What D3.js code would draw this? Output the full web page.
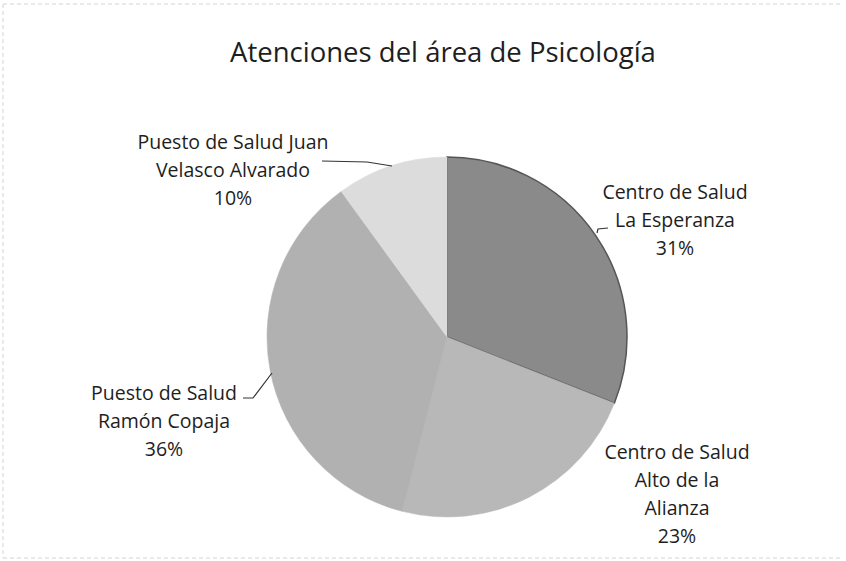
<!DOCTYPE html>
<html>
<head>
<meta charset="utf-8">
<script src="https://cdn.jsdelivr.net/npm/d3@7"></script>
<style>
  body { margin: 0; background: #fff; }
  text { font-family: "Open Sans", Lato, sans-serif; fill: #1e1e1e; }
</style>
</head>
<body>
<svg id="chart" width="846" height="561"></svg>
<script>
// Data
const categories = [
  "Centro de Salud La Esperanza",
  "Centro de Salud Alto de la Alianza",
  "Puesto de Salud Ramón Copaja",
  "Puesto de Salud Juan Velasco Alvarado"
];
const values = [31, 23, 36, 10];
const labelLines = [
  ["Centro de Salud", "La Esperanza", "31%"],
  ["Centro de Salud", "Alto de la", "Alianza", "23%"],
  ["Puesto de Salud", "Ramón Copaja", "36%"],
  ["Puesto de Salud Juan", "Velasco Alvarado", "10%"]
];

// Layout
const cx = 447, cy = 337, radius = 180;
const sliceColors = ["#8a8a8a", "#b8b8b8", "#b1b1b1", "#dcdcdc"];
const labelPos = [
  { x: 675, y: 199 },
  { x: 677, y: 459 },
  { x: 164, y: 400 },
  { x: 233, y: 149 }
];
// leader line points, relative to the pie center
const leaders = [
  [[150, -104], [151, -108], [161, -109]],
  null,
  [[-175, 36], [-194, 61], [-204, 61]],
  [[-55, -171], [-80, -175], [-125, -176]]
];

const svg = d3.select("#chart");

// scanned chart frame
const frame = svg.append("g")
  .attr("stroke", "#d4d4d4")
  .attr("stroke-width", 1)
  .attr("stroke-dasharray", "4 3")
  .attr("fill", "none");
frame.append("line").attr("x1", 3).attr("y1", 4).attr("x2", 843).attr("y2", 4);
frame.append("line").attr("x1", 3).attr("y1", 4).attr("x2", 3).attr("y2", 558);
frame.append("line").attr("x1", 3).attr("y1", 558).attr("x2", 843).attr("y2", 558);

// Title
svg.append("text")
  .attr("x", 443)
  .attr("y", 62)
  .attr("text-anchor", "middle")
  .style("font-size", "27.5px")
  .text("Atenciones del área de Psicología");

const pie = d3.pie().sort(null).value(d => d)(values);
const arc = d3.arc().innerRadius(0).outerRadius(radius);

const g = svg.append("g").attr("transform", `translate(${cx},${cy})`);

g.selectAll("path.slice")
  .data(pie)
  .join("path")
  .attr("class", "slice")
  .attr("d", arc)
  .attr("fill", (d, i) => sliceColors[i])
  .attr("stroke", (d, i) => i === 0 ? "#555" : sliceColors[i])
  .attr("stroke-width", (d, i) => i === 0 ? 1.5 : 0.5);

// Leader lines
const line = d3.line();
leaders.forEach(pts => {
  if (!pts) return;
  g.append("path")
    .attr("d", line(pts))
    .attr("fill", "none")
    .attr("stroke", "#333")
    .attr("stroke-width", 1.2);
});

// Labels
labelLines.forEach((lines, i) => {
  const t = svg.append("text")
    .attr("text-anchor", "middle")
    .style("font-size", "19.5px")
    .attr("x", labelPos[i].x)
    .attr("y", labelPos[i].y);
  lines.forEach((s, j) => {
    t.append("tspan")
      .attr("x", labelPos[i].x)
      .attr("dy", j === 0 ? 0 : 28)
      .text(s);
  });
});
</script>
</body>
</html>
